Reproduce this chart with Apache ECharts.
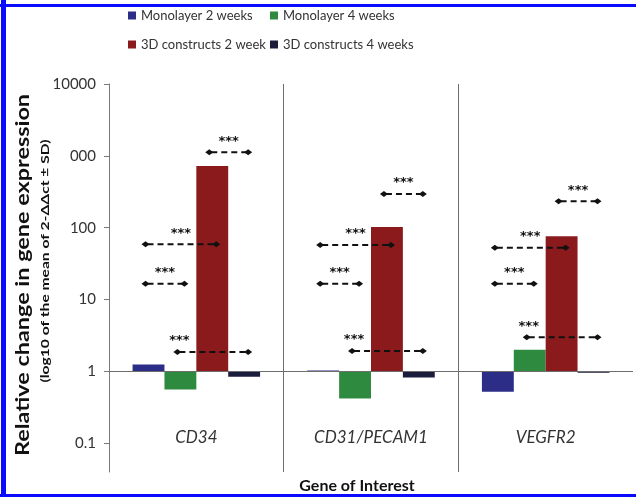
<!DOCTYPE html>
<html><head><meta charset="utf-8">
<script src="https://cdn.jsdelivr.net/npm/echarts@6/dist/echarts.min.js"></script>
<style>html,body{margin:0;padding:0;background:#fff}#c{width:636px;height:497px}</style>
</head><body><div id="c"></div>
<script>
// ---- data ----
const genes = ['CD34', 'CD31/PECAM1', 'VEGFR2'];
const seriesNames = ['Monolayer 2 weeks', 'Monolayer 4 weeks', '3D constructs 2 week', '3D constructs 4 weeks'];
const mono2w = [1.25, 1.03, 0.52];
const mono4w = [0.56, 0.42, 2.0];
const constr2w = [720, 102, 76];
const constr4w = [0.84, 0.82, 0.96];
const tickValues = [0.1, 1, 10, 100, 1000, 10000];
const tickLabels = ['0.1', '1', '10', '100', '000', '10000'];
// significance brackets: gene index, from bar, to bar, level (fold change)
const sigGene  = [0, 0, 0, 0, 1, 1, 1, 1, 2, 2, 2, 2];
const sigFrom  = [2, 0, 0, 1, 2, 0, 0, 1, 2, 0, 0, 1];
const sigTo    = [3, 2, 1, 3, 3, 2, 1, 3, 3, 2, 1, 3];
const sigLevel = [1120, 59, 16.6, 1.86, 295, 57.5, 16.6, 1.93, 234, 52.5, 16.6, 3.0];
const sigText  = '***';

// ---- build ----
const colors = ['#2b2d86', '#2e8a3e', '#8b1a1c', '#1c1c3c'];
const font = 'Lato, "Open Sans", sans-serif';
const lg = v => Math.log10(v);
const allSeries = [mono2w, mono4w, constr2w, constr4w];
const catGap = 0.27;

const barSeries = allSeries.map((arr, i) => ({
  name: seriesNames[i], type: 'bar', data: arr.map(lg),
  barGap: '0%', barCategoryGap: (catGap * 100) + '%',
  itemStyle: { color: colors[i] }, z: 3,
  markLine: i === 0 ? {
    silent: true, symbol: 'none', label: { show: false },
    lineStyle: { color: '#6e6e6e', type: 'solid', width: 1 },
    data: [{ yAxis: 0 }]
  } : undefined
}));

const sigData = sigGene.map((g, k) => [g, lg(sigLevel[k]), sigFrom[k], sigTo[k]]);
const sigSeries = {
  type: 'custom', name: 'sig', silent: true, z: 10,
  encode: { x: 0, y: 1 },
  data: sigData,
  renderItem: function (params, api) {
    const cat = api.value(0), lev = api.value(1), f = api.value(2), t = api.value(3);
    const c = api.coord([cat, lev]);
    const band = api.size([1, 0])[0];
    const bw = band * (1 - catGap) / 4;
    const x1 = c[0] + (-1.5 + f) * bw - 3;
    const x2 = c[0] + (-1.5 + t) * bw + 4;
    const y = c[1];
    const lx = (f === 1 && t === 3) ? x1 + 2 : (x1 + x2) / 2;
    const d = 4, h = 3;
    return {
      type: 'group', children: [
        { type: 'line', shape: { x1: x1 + 2, y1: y, x2: x2 - 2, y2: y },
          style: { stroke: '#111', lineWidth: 2, lineDash: [6, 4] } },
        { type: 'polygon', shape: { points: [[x1 - d, y], [x1, y - h], [x1 + d, y], [x1, y + h]] },
          style: { fill: '#111' } },
        { type: 'polygon', shape: { points: [[x2 - d, y], [x2, y - h], [x2 + d, y], [x2, y + h]] },
          style: { fill: '#111' } },
        { type: 'text', x: lx, y: y - 11,
          style: { text: sigText, fill: '#111', font: 'bold 13px "DejaVu Sans", sans-serif', align: 'center', verticalAlign: 'middle' } }
      ]
    };
  }
};

const legends = seriesNames.map((n, i) => ({
  data: [n], left: i % 2 === 0 ? 128 : 270, top: i < 2 ? 9 : 38, padding: 0,
  icon: 'rect', itemWidth: 8, itemHeight: 8, itemGap: 5,
  textStyle: { fontFamily: font, fontSize: 13, color: '#333' }, selectedMode: false
}));

const chart = echarts.init(document.getElementById('c'), null, { renderer: 'canvas' });
chart.setOption({
  animation: false,
  backgroundColor: '#fff',
  legend: legends,
  grid: { left: 109, right: 3, top: 84, bottom: 25, containLabel: false },
  xAxis: {
    type: 'category', data: genes, position: 'bottom',
    axisLine: { show: false }, axisTick: { show: false },
    axisLabel: { inside: true, margin: 26, fontFamily: font, fontSize: 17, fontStyle: 'italic', color: '#333' },
    splitLine: { show: true, showMinLine: false, showMaxLine: false, lineStyle: { color: '#6e6e6e', width: 1 } }
  },
  yAxis: {
    type: 'value', min: -1.4, max: 4,
    axisLine: { show: true, lineStyle: { color: '#7a7a7a', width: 1 } },
    axisTick: { show: true, length: 5, customValues: tickValues.map(lg), lineStyle: { color: '#7a7a7a' } },
    axisLabel: {
      customValues: tickValues.map(lg), margin: 13, fontFamily: font, fontSize: 15, color: '#333',
      formatter: v => { const k = tickValues.findIndex(t => Math.abs(lg(t) - v) < 1e-6); return k >= 0 ? tickLabels[k] : ''; }
    },
    splitLine: { show: false }
  },
  graphic: [
    { type: 'rect', shape: { x: 1, y: 0, width: 5, height: 497 }, style: { fill: '#0a0aff' } },
    { type: 'rect', shape: { x: 0, y: 4, width: 636, height: 3 }, style: { fill: '#0a0aff' } },
    { type: 'rect', shape: { x: 0, y: 494, width: 636, height: 3 }, style: { fill: '#0a0aff' } },
    { type: 'text', x: 23, y: 275, rotation: Math.PI / 2, scaleX: 1.3, scaleY: 1,
      style: { text: 'Relative change in gene expression', font: 'bold 18px ' + font, fill: '#111', align: 'center', verticalAlign: 'middle' } },
    { type: 'text', x: 45, y: 261, rotation: Math.PI / 2, scaleX: 1.3, scaleY: 1,
      style: { text: '(log10 of the mean of 2-ΔΔct ± SD)', font: 'bold 12px ' + font, fill: '#111', align: 'center', verticalAlign: 'middle' } },
    { type: 'text', x: 357, y: 486,
      style: { text: 'Gene of Interest', font: 'bold 16px ' + font, fill: '#111', align: 'center', verticalAlign: 'middle' } }
  ],
  series: [...barSeries, sigSeries]
});
</script></body></html>
